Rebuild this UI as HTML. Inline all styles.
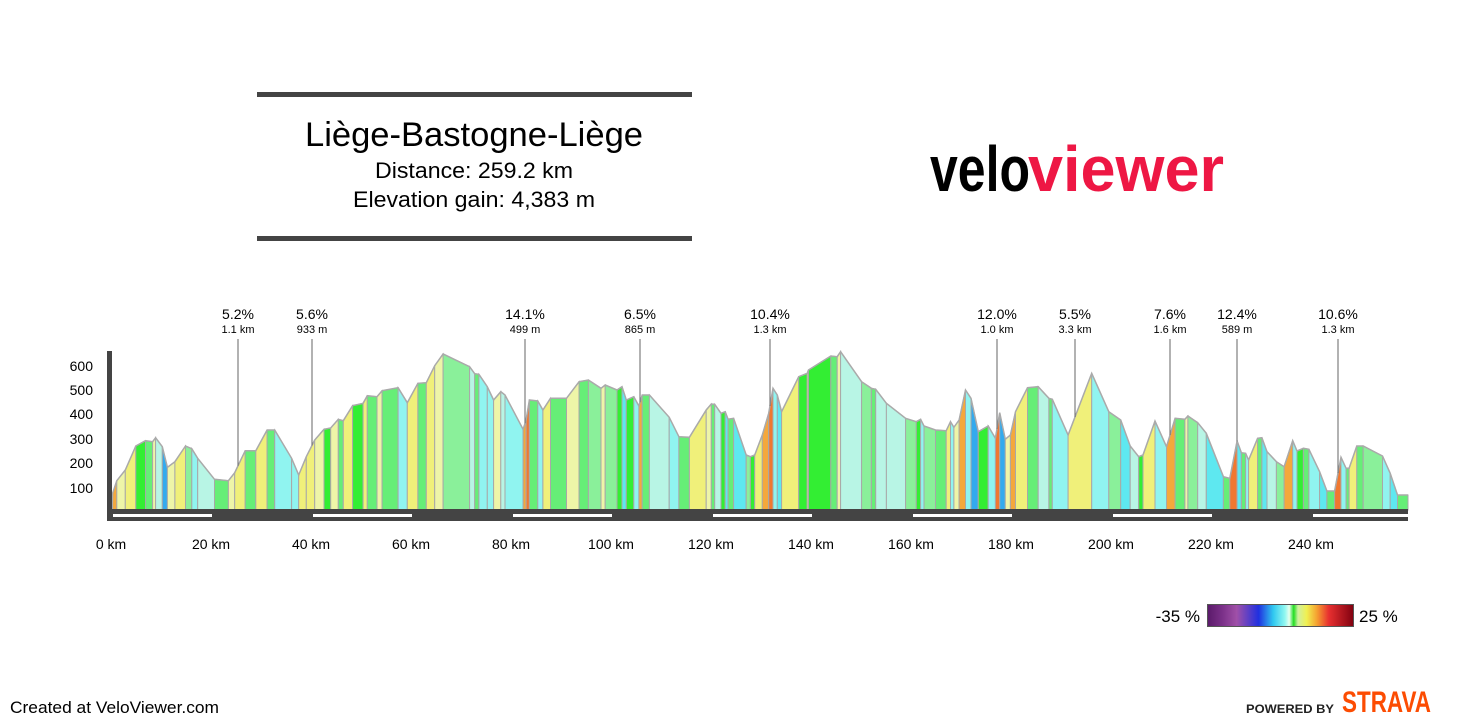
<!DOCTYPE html>
<html><head><meta charset="utf-8"><style>
html,body{margin:0;padding:0;background:#fff;width:1470px;height:726px;overflow:hidden}
svg{display:block;font-family:"Liberation Sans",Arial,sans-serif}
</style></head><body>
<svg id="s" width="1470" height="726" viewBox="0 0 1470 726" xmlns="http://www.w3.org/2000/svg">
<defs>
<linearGradient id="lg" x1="0" x2="1" y1="0" y2="0">
<stop offset="0" stop-color="#5a1a6a"/><stop offset="0.1" stop-color="#7a3088"/><stop offset="0.2" stop-color="#a050a8"/>
<stop offset="0.35" stop-color="#2030e0"/><stop offset="0.45" stop-color="#30c8f0"/><stop offset="0.53" stop-color="#90f8f0"/>
<stop offset="0.56" stop-color="#e8fff0"/><stop offset="0.59" stop-color="#22dd22"/><stop offset="0.62" stop-color="#d0f0a0"/>
<stop offset="0.68" stop-color="#f0f050"/><stop offset="0.75" stop-color="#f5a030"/><stop offset="0.83" stop-color="#e83030"/>
<stop offset="1" stop-color="#800010"/></linearGradient></defs>
<rect x="257" y="92" width="435" height="5" fill="#444"/>
<rect x="257" y="236" width="435" height="5" fill="#444"/>
<text x="474" y="146" font-size="34" text-anchor="middle" fill="#000" textLength="338" lengthAdjust="spacingAndGlyphs">Liège-Bastogne-Liège</text>
<text x="474" y="178" font-size="22" text-anchor="middle" fill="#000" textLength="198" lengthAdjust="spacingAndGlyphs">Distance: 259.2 km</text>
<text x="474" y="207" font-size="22" text-anchor="middle" fill="#000" textLength="242" lengthAdjust="spacingAndGlyphs">Elevation gain: 4,383 m</text>
<text x="930" y="191" font-size="64" font-weight="bold" fill="#000" textLength="100" lengthAdjust="spacingAndGlyphs">velo</text>
<text x="1028" y="191" font-size="64" font-weight="bold" fill="#ee1744" textLength="196" lengthAdjust="spacingAndGlyphs">viewer</text>
<g id="prof"></g>
<rect x="107" y="351" width="5" height="160" fill="#444"/>
<rect x="107" y="509" width="1301" height="12" fill="#444"/>
<g fill="#fff">
<rect x="113" y="514" width="99" height="3"/><rect x="313" y="514" width="99" height="3"/><rect x="513" y="514" width="99" height="3"/>
<rect x="713" y="514" width="99" height="3"/><rect x="913" y="514" width="99" height="3"/><rect x="1113" y="514" width="99" height="3"/>
<rect x="1313" y="514" width="95" height="3"/></g>
<g font-size="14" fill="#000" text-anchor="end">
<text x="93" y="371">600</text><text x="93" y="395">500</text><text x="93" y="419">400</text>
<text x="93" y="444">300</text><text x="93" y="468">200</text><text x="93" y="493">100</text></g>
<g font-size="14" fill="#000" text-anchor="middle">
<text x="111" y="549">0 km</text><text x="211" y="549">20 km</text><text x="311" y="549">40 km</text><text x="411" y="549">60 km</text>
<text x="511" y="549">80 km</text><text x="611" y="549">100 km</text><text x="711" y="549">120 km</text><text x="811" y="549">140 km</text>
<text x="911" y="549">160 km</text><text x="1011" y="549">180 km</text><text x="1111" y="549">200 km</text><text x="1211" y="549">220 km</text>
<text x="1311" y="549">240 km</text></g>
<g id="climbs" fill="#000" text-anchor="middle"></g>
<rect x="1207.5" y="604.5" width="146" height="22" fill="url(#lg)" stroke="#555"/>
<text x="1200" y="622" font-size="17" text-anchor="end">-35 %</text>
<text x="1359" y="622" font-size="17">25 %</text>
<text x="10" y="713" font-size="17" fill="#000" textLength="209" lengthAdjust="spacingAndGlyphs">Created at VeloViewer.com</text>
<text x="1246" y="713" font-size="12" font-weight="bold" fill="#222" textLength="88" lengthAdjust="spacingAndGlyphs">POWERED BY</text>
<text x="1342" y="712" font-size="30" font-weight="bold" fill="#fc4c02" textLength="89" lengthAdjust="spacingAndGlyphs">STRAVA</text>
</svg>
<script>
var z1=[[30,460],[40,422],[60,390],[85,318],[108,302],[125,305],[132,293],[148,320],[160,382],[178,365],[203,318],[218,326],[232,355],[272,418],[305,422],[320,398],[345,332],[370,332],[397,270],[415,270],[455,355],[472,405],[490,350],[510,300],[532,268],[548,264],[566,238],[578,242],[600,197],[625,190],[635,167],[658,170],[670,152],[708,143],[730,188],[755,130],[775,128],[795,77],[815,42],[878,80],[890,101],[900,103],[920,140],[935,180],[952,155],[962,165],[1005,268],[1012,240],[1020,180],[1040,183],[1052,210],[1070,175],[1108,175],[1138,125],[1160,120],[1190,145],[1200,135],[1228,150],[1240,140],[1250,180],[1268,170],[1280,198],[1288,165],[1305,165],[1352,232],[1375,290],[1400,292],[1440,210],[1452,192],[1460,193],[1475,220],[1485,215],[1492,238],[1505,235],[1535,345],[1545,350],[1555,345]];
var z2=[[0,345],[10,345],[30,285],[45,220],[55,145],[65,165],[75,215],[115,110],[135,100],[138,90],[190,48],[205,50],[213,35],[262,125],[285,145],[295,148],[320,190],[365,235],[390,245],[400,238],[408,258],[435,270],[460,272],[470,245],[478,262],[490,240],[505,150],[518,175],[535,275],[558,258],[575,295],[585,218],[598,298],[610,285],[622,215],[650,143],[675,140],[700,175],[708,178],[745,285],[800,100],[840,215],[868,240],[890,318],[910,350],[920,345],[948,243],[975,320],[995,235],[1018,238],[1025,228],[1048,248],[1068,280],[1108,410],[1123,415],[1140,303],[1150,338],[1160,340],[1167,360],[1188,295],[1198,293],[1210,335],[1232,365],[1250,380],[1270,302],[1280,333],[1295,325],[1308,328],[1333,395],[1350,453],[1368,453],[1383,352],[1395,385],[1402,385],[1420,318],[1435,318],[1480,348],[1498,400],[1515,465],[1540,465]];
var pts=[[112,509]];
z1.forEach(function(p){pts.push([100+p[0]*0.421,340+p[1]/3]);});
z2.forEach(function(p){var x=749.5+p[0]*0.4277;if(x>pts[pts.length-1][0]+0.3)pts.push([x,340+p[1]/3]);});
pts[pts.length-1][0]=1408;
function col(g){
if(g>=10)return"#f07830";if(g>=6)return"#f4a83c";if(g>=3)return"#f0f07a";if(g>=1.5)return"#eef5a8";
if(g>=0.4)return"#33ee33";if(g>=-0.6)return"#66ee77";if(g>=-1.5)return"#8af09a";if(g>=-3)return"#b8f5e5";
if(g>=-5)return"#90f4f0";if(g>=-8)return"#5ee8f0";return"#33aaee";}
var h="";
for(var i=1;i<pts.length;i++){var a=pts[i-1],b=pts[i];var dx=b[0]-a[0];if(dx<=0)continue;
var g=((a[1]-b[1])*4.1)/(dx*200)*100;
h+='<polygon points="'+a[0].toFixed(1)+','+a[1].toFixed(1)+' '+b[0].toFixed(1)+','+b[1].toFixed(1)+' '+b[0].toFixed(1)+',510 '+a[0].toFixed(1)+',510" fill="'+col(g)+'" stroke="#a8a8a8" stroke-width="1"/>';}
var pl=pts.map(function(p){return p[0].toFixed(1)+','+p[1].toFixed(1)}).join(' ');
h+='<polyline points="'+pl+'" fill="none" stroke="#aaa" stroke-width="1.5"/>';
document.getElementById('prof').innerHTML=h;
function yat(x){for(var i=1;i<pts.length;i++){if(pts[i][0]>=x){var a=pts[i-1],b=pts[i];return a[1]+(b[1]-a[1])*(x-a[0])/(b[0]-a[0]);}}return 500;}
var cl=[[238,"5.2%","1.1 km"],[312,"5.6%","933 m"],[525,"14.1%","499 m"],[640,"6.5%","865 m"],[770,"10.4%","1.3 km"],[997,"12.0%","1.0 km"],[1075,"5.5%","3.3 km"],[1170,"7.6%","1.6 km"],[1237,"12.4%","589 m"],[1338,"10.6%","1.3 km"]];
var c="";cl.forEach(function(k){c+='<line x1="'+k[0]+'" x2="'+k[0]+'" y1="339" y2="'+yat(k[0]).toFixed(1)+'" stroke="#666" stroke-width="1"/>'+
'<text x="'+k[0]+'" y="319" font-size="14">'+k[1]+'</text><text x="'+k[0]+'" y="333" font-size="11">'+k[2]+'</text>';});
document.getElementById('climbs').innerHTML=c;
</script>
</body></html>
